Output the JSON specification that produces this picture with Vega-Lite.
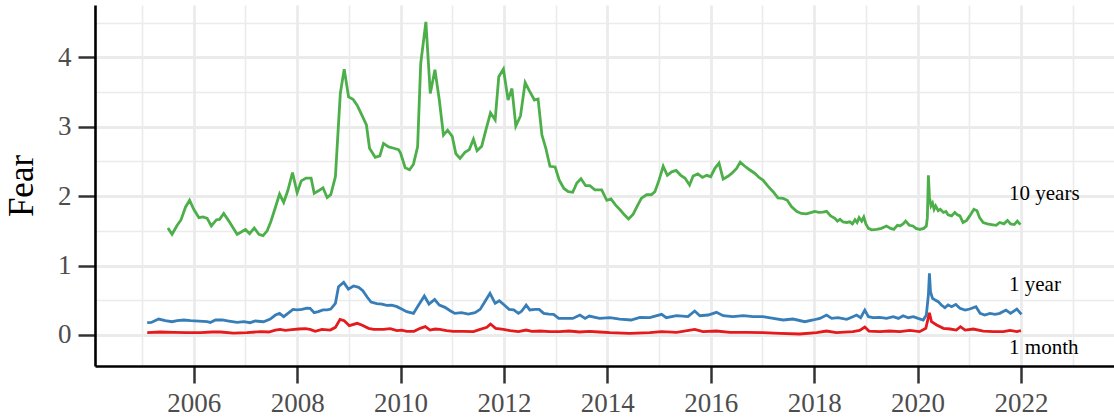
{
  "$schema": "https://vega.github.io/schema/vega-lite/v6.json",
  "width": 1019,
  "height": 361,
  "autosize": "none",
  "padding": {"left": 95, "top": 5, "right": 0, "bottom": 54},
  "background": "white",
  "config": {"view": {"stroke": null}, "font": "Liberation Serif"},
  "datasets": {
    "series": [
      {"t":2005.50,"v":1.54,"s":"10 years"},{"t":2005.58,"v":1.45,"s":"10 years"},{"t":2005.68,"v":1.58,"s":"10 years"},{"t":2005.755,"v":1.66,"s":"10 years"},{"t":2005.84,"v":1.84,"s":"10 years"},{"t":2005.92,"v":1.94,"s":"10 years"},{"t":2006.00,"v":1.81,"s":"10 years"},{"t":2006.10,"v":1.69,"s":"10 years"},{"t":2006.18,"v":1.70,"s":"10 years"},{"t":2006.26,"v":1.68,"s":"10 years"},{"t":2006.34,"v":1.57,"s":"10 years"},{"t":2006.44,"v":1.66,"s":"10 years"},{"t":2006.50,"v":1.665,"s":"10 years"},{"t":2006.58,"v":1.75,"s":"10 years"},{"t":2006.68,"v":1.64,"s":"10 years"},{"t":2006.76,"v":1.545,"s":"10 years"},{"t":2006.84,"v":1.45,"s":"10 years"},{"t":2006.91,"v":1.48,"s":"10 years"},{"t":2007.00,"v":1.52,"s":"10 years"},{"t":2007.08,"v":1.46,"s":"10 years"},{"t":2007.17,"v":1.54,"s":"10 years"},{"t":2007.26,"v":1.45,"s":"10 years"},{"t":2007.34,"v":1.43,"s":"10 years"},{"t":2007.42,"v":1.50,"s":"10 years"},{"t":2007.49,"v":1.63,"s":"10 years"},{"t":2007.58,"v":1.84,"s":"10 years"},{"t":2007.66,"v":2.03,"s":"10 years"},{"t":2007.74,"v":1.91,"s":"10 years"},{"t":2007.82,"v":2.08,"s":"10 years"},{"t":2007.91,"v":2.34,"s":"10 years"},{"t":2008.00,"v":2.05,"s":"10 years"},{"t":2008.08,"v":2.22,"s":"10 years"},{"t":2008.17,"v":2.26,"s":"10 years"},{"t":2008.27,"v":2.26,"s":"10 years"},{"t":2008.33,"v":2.04,"s":"10 years"},{"t":2008.42,"v":2.08,"s":"10 years"},{"t":2008.50,"v":2.12,"s":"10 years"},{"t":2008.58,"v":1.98,"s":"10 years"},{"t":2008.65,"v":2.02,"s":"10 years"},{"t":2008.74,"v":2.28,"s":"10 years"},{"t":2008.835,"v":3.48,"s":"10 years"},{"t":2008.91,"v":3.83,"s":"10 years"},{"t":2008.995,"v":3.43,"s":"10 years"},{"t":2009.08,"v":3.395,"s":"10 years"},{"t":2009.16,"v":3.31,"s":"10 years"},{"t":2009.25,"v":3.17,"s":"10 years"},{"t":2009.34,"v":3.025,"s":"10 years"},{"t":2009.40,"v":2.69,"s":"10 years"},{"t":2009.51,"v":2.56,"s":"10 years"},{"t":2009.60,"v":2.58,"s":"10 years"},{"t":2009.67,"v":2.76,"s":"10 years"},{"t":2009.77,"v":2.71,"s":"10 years"},{"t":2009.87,"v":2.69,"s":"10 years"},{"t":2009.96,"v":2.67,"s":"10 years"},{"t":2010.00,"v":2.62,"s":"10 years"},{"t":2010.09,"v":2.41,"s":"10 years"},{"t":2010.175,"v":2.38,"s":"10 years"},{"t":2010.25,"v":2.46,"s":"10 years"},{"t":2010.33,"v":2.71,"s":"10 years"},{"t":2010.39,"v":3.91,"s":"10 years"},{"t":2010.49,"v":4.51,"s":"10 years"},{"t":2010.575,"v":3.48,"s":"10 years"},{"t":2010.665,"v":3.82,"s":"10 years"},{"t":2010.75,"v":3.385,"s":"10 years"},{"t":2010.83,"v":2.88,"s":"10 years"},{"t":2010.91,"v":2.95,"s":"10 years"},{"t":2011.00,"v":2.86,"s":"10 years"},{"t":2011.07,"v":2.61,"s":"10 years"},{"t":2011.15,"v":2.545,"s":"10 years"},{"t":2011.245,"v":2.63,"s":"10 years"},{"t":2011.33,"v":2.67,"s":"10 years"},{"t":2011.41,"v":2.82,"s":"10 years"},{"t":2011.48,"v":2.655,"s":"10 years"},{"t":2011.57,"v":2.72,"s":"10 years"},{"t":2011.65,"v":2.95,"s":"10 years"},{"t":2011.74,"v":3.20,"s":"10 years"},{"t":2011.83,"v":3.10,"s":"10 years"},{"t":2011.90,"v":3.72,"s":"10 years"},{"t":2011.99,"v":3.83,"s":"10 years"},{"t":2012.08,"v":3.385,"s":"10 years"},{"t":2012.155,"v":3.55,"s":"10 years"},{"t":2012.23,"v":3.01,"s":"10 years"},{"t":2012.32,"v":3.155,"s":"10 years"},{"t":2012.41,"v":3.635,"s":"10 years"},{"t":2012.49,"v":3.52,"s":"10 years"},{"t":2012.59,"v":3.385,"s":"10 years"},{"t":2012.66,"v":3.40,"s":"10 years"},{"t":2012.735,"v":2.88,"s":"10 years"},{"t":2012.81,"v":2.69,"s":"10 years"},{"t":2012.89,"v":2.43,"s":"10 years"},{"t":2012.99,"v":2.42,"s":"10 years"},{"t":2013.07,"v":2.23,"s":"10 years"},{"t":2013.16,"v":2.11,"s":"10 years"},{"t":2013.245,"v":2.065,"s":"10 years"},{"t":2013.33,"v":2.055,"s":"10 years"},{"t":2013.41,"v":2.19,"s":"10 years"},{"t":2013.49,"v":2.25,"s":"10 years"},{"t":2013.58,"v":2.15,"s":"10 years"},{"t":2013.66,"v":2.15,"s":"10 years"},{"t":2013.76,"v":2.09,"s":"10 years"},{"t":2013.89,"v":2.09,"s":"10 years"},{"t":2013.99,"v":1.94,"s":"10 years"},{"t":2014.07,"v":1.96,"s":"10 years"},{"t":2014.16,"v":1.87,"s":"10 years"},{"t":2014.25,"v":1.80,"s":"10 years"},{"t":2014.33,"v":1.73,"s":"10 years"},{"t":2014.41,"v":1.67,"s":"10 years"},{"t":2014.50,"v":1.74,"s":"10 years"},{"t":2014.58,"v":1.86,"s":"10 years"},{"t":2014.66,"v":1.97,"s":"10 years"},{"t":2014.76,"v":2.02,"s":"10 years"},{"t":2014.85,"v":2.02,"s":"10 years"},{"t":2014.92,"v":2.065,"s":"10 years"},{"t":2015.00,"v":2.23,"s":"10 years"},{"t":2015.08,"v":2.43,"s":"10 years"},{"t":2015.16,"v":2.30,"s":"10 years"},{"t":2015.245,"v":2.35,"s":"10 years"},{"t":2015.33,"v":2.37,"s":"10 years"},{"t":2015.42,"v":2.30,"s":"10 years"},{"t":2015.50,"v":2.26,"s":"10 years"},{"t":2015.59,"v":2.16,"s":"10 years"},{"t":2015.66,"v":2.29,"s":"10 years"},{"t":2015.75,"v":2.32,"s":"10 years"},{"t":2015.84,"v":2.27,"s":"10 years"},{"t":2015.92,"v":2.30,"s":"10 years"},{"t":2016.00,"v":2.28,"s":"10 years"},{"t":2016.08,"v":2.40,"s":"10 years"},{"t":2016.16,"v":2.475,"s":"10 years"},{"t":2016.24,"v":2.245,"s":"10 years"},{"t":2016.34,"v":2.29,"s":"10 years"},{"t":2016.41,"v":2.33,"s":"10 years"},{"t":2016.50,"v":2.40,"s":"10 years"},{"t":2016.57,"v":2.49,"s":"10 years"},{"t":2016.66,"v":2.43,"s":"10 years"},{"t":2016.75,"v":2.38,"s":"10 years"},{"t":2016.85,"v":2.33,"s":"10 years"},{"t":2016.94,"v":2.265,"s":"10 years"},{"t":2017.01,"v":2.23,"s":"10 years"},{"t":2017.11,"v":2.14,"s":"10 years"},{"t":2017.21,"v":2.06,"s":"10 years"},{"t":2017.30,"v":1.975,"s":"10 years"},{"t":2017.40,"v":1.966,"s":"10 years"},{"t":2017.48,"v":1.94,"s":"10 years"},{"t":2017.56,"v":1.85,"s":"10 years"},{"t":2017.66,"v":1.78,"s":"10 years"},{"t":2017.75,"v":1.75,"s":"10 years"},{"t":2017.85,"v":1.745,"s":"10 years"},{"t":2017.95,"v":1.765,"s":"10 years"},{"t":2018.01,"v":1.78,"s":"10 years"},{"t":2018.09,"v":1.765,"s":"10 years"},{"t":2018.17,"v":1.77,"s":"10 years"},{"t":2018.24,"v":1.78,"s":"10 years"},{"t":2018.32,"v":1.715,"s":"10 years"},{"t":2018.40,"v":1.68,"s":"10 years"},{"t":2018.45,"v":1.64,"s":"10 years"},{"t":2018.50,"v":1.665,"s":"10 years"},{"t":2018.56,"v":1.627,"s":"10 years"},{"t":2018.63,"v":1.62,"s":"10 years"},{"t":2018.69,"v":1.63,"s":"10 years"},{"t":2018.74,"v":1.60,"s":"10 years"},{"t":2018.79,"v":1.66,"s":"10 years"},{"t":2018.83,"v":1.62,"s":"10 years"},{"t":2018.87,"v":1.69,"s":"10 years"},{"t":2018.92,"v":1.64,"s":"10 years"},{"t":2018.96,"v":1.70,"s":"10 years"},{"t":2019.00,"v":1.60,"s":"10 years"},{"t":2019.05,"v":1.535,"s":"10 years"},{"t":2019.11,"v":1.515,"s":"10 years"},{"t":2019.21,"v":1.52,"s":"10 years"},{"t":2019.30,"v":1.535,"s":"10 years"},{"t":2019.40,"v":1.57,"s":"10 years"},{"t":2019.48,"v":1.535,"s":"10 years"},{"t":2019.54,"v":1.52,"s":"10 years"},{"t":2019.61,"v":1.58,"s":"10 years"},{"t":2019.66,"v":1.57,"s":"10 years"},{"t":2019.72,"v":1.60,"s":"10 years"},{"t":2019.77,"v":1.64,"s":"10 years"},{"t":2019.84,"v":1.58,"s":"10 years"},{"t":2019.91,"v":1.57,"s":"10 years"},{"t":2019.97,"v":1.535,"s":"10 years"},{"t":2020.04,"v":1.52,"s":"10 years"},{"t":2020.12,"v":1.535,"s":"10 years"},{"t":2020.17,"v":1.57,"s":"10 years"},{"t":2020.19,"v":1.69,"s":"10 years"},{"t":2020.21,"v":2.30,"s":"10 years"},{"t":2020.23,"v":1.985,"s":"10 years"},{"t":2020.26,"v":1.86,"s":"10 years"},{"t":2020.29,"v":1.90,"s":"10 years"},{"t":2020.32,"v":1.81,"s":"10 years"},{"t":2020.35,"v":1.86,"s":"10 years"},{"t":2020.40,"v":1.79,"s":"10 years"},{"t":2020.44,"v":1.81,"s":"10 years"},{"t":2020.50,"v":1.765,"s":"10 years"},{"t":2020.55,"v":1.78,"s":"10 years"},{"t":2020.59,"v":1.73,"s":"10 years"},{"t":2020.66,"v":1.715,"s":"10 years"},{"t":2020.72,"v":1.765,"s":"10 years"},{"t":2020.77,"v":1.73,"s":"10 years"},{"t":2020.82,"v":1.715,"s":"10 years"},{"t":2020.88,"v":1.62,"s":"10 years"},{"t":2020.95,"v":1.65,"s":"10 years"},{"t":2021.01,"v":1.715,"s":"10 years"},{"t":2021.09,"v":1.81,"s":"10 years"},{"t":2021.15,"v":1.79,"s":"10 years"},{"t":2021.20,"v":1.69,"s":"10 years"},{"t":2021.27,"v":1.62,"s":"10 years"},{"t":2021.35,"v":1.60,"s":"10 years"},{"t":2021.43,"v":1.59,"s":"10 years"},{"t":2021.52,"v":1.58,"s":"10 years"},{"t":2021.59,"v":1.62,"s":"10 years"},{"t":2021.67,"v":1.60,"s":"10 years"},{"t":2021.74,"v":1.65,"s":"10 years"},{"t":2021.80,"v":1.60,"s":"10 years"},{"t":2021.87,"v":1.59,"s":"10 years"},{"t":2021.93,"v":1.64,"s":"10 years"},{"t":2021.99,"v":1.59,"s":"10 years"},

      {"t":2005.10,"v":0.176,"s":"1 year"},{"t":2005.18,"v":0.18,"s":"1 year"},{"t":2005.32,"v":0.229,"s":"1 year"},{"t":2005.45,"v":0.205,"s":"1 year"},{"t":2005.58,"v":0.19,"s":"1 year"},{"t":2005.68,"v":0.205,"s":"1 year"},{"t":2005.81,"v":0.215,"s":"1 year"},{"t":2005.94,"v":0.205,"s":"1 year"},{"t":2006.10,"v":0.20,"s":"1 year"},{"t":2006.26,"v":0.19,"s":"1 year"},{"t":2006.32,"v":0.18,"s":"1 year"},{"t":2006.42,"v":0.215,"s":"1 year"},{"t":2006.55,"v":0.215,"s":"1 year"},{"t":2006.68,"v":0.20,"s":"1 year"},{"t":2006.84,"v":0.18,"s":"1 year"},{"t":2006.97,"v":0.19,"s":"1 year"},{"t":2007.09,"v":0.176,"s":"1 year"},{"t":2007.19,"v":0.20,"s":"1 year"},{"t":2007.35,"v":0.19,"s":"1 year"},{"t":2007.48,"v":0.229,"s":"1 year"},{"t":2007.58,"v":0.286,"s":"1 year"},{"t":2007.66,"v":0.31,"s":"1 year"},{"t":2007.74,"v":0.263,"s":"1 year"},{"t":2007.84,"v":0.32,"s":"1 year"},{"t":2007.92,"v":0.368,"s":"1 year"},{"t":2008.00,"v":0.36,"s":"1 year"},{"t":2008.09,"v":0.368,"s":"1 year"},{"t":2008.19,"v":0.387,"s":"1 year"},{"t":2008.25,"v":0.383,"s":"1 year"},{"t":2008.33,"v":0.32,"s":"1 year"},{"t":2008.41,"v":0.335,"s":"1 year"},{"t":2008.50,"v":0.36,"s":"1 year"},{"t":2008.58,"v":0.36,"s":"1 year"},{"t":2008.65,"v":0.373,"s":"1 year"},{"t":2008.74,"v":0.455,"s":"1 year"},{"t":2008.80,"v":0.695,"s":"1 year"},{"t":2008.90,"v":0.757,"s":"1 year"},{"t":2008.99,"v":0.66,"s":"1 year"},{"t":2009.09,"v":0.705,"s":"1 year"},{"t":2009.19,"v":0.685,"s":"1 year"},{"t":2009.27,"v":0.637,"s":"1 year"},{"t":2009.35,"v":0.55,"s":"1 year"},{"t":2009.43,"v":0.474,"s":"1 year"},{"t":2009.54,"v":0.45,"s":"1 year"},{"t":2009.64,"v":0.445,"s":"1 year"},{"t":2009.73,"v":0.426,"s":"1 year"},{"t":2009.83,"v":0.43,"s":"1 year"},{"t":2009.93,"v":0.407,"s":"1 year"},{"t":2010.02,"v":0.373,"s":"1 year"},{"t":2010.12,"v":0.335,"s":"1 year"},{"t":2010.25,"v":0.31,"s":"1 year"},{"t":2010.35,"v":0.43,"s":"1 year"},{"t":2010.46,"v":0.56,"s":"1 year"},{"t":2010.55,"v":0.445,"s":"1 year"},{"t":2010.66,"v":0.51,"s":"1 year"},{"t":2010.75,"v":0.43,"s":"1 year"},{"t":2010.86,"v":0.397,"s":"1 year"},{"t":2010.96,"v":0.349,"s":"1 year"},{"t":2011.05,"v":0.31,"s":"1 year"},{"t":2011.18,"v":0.32,"s":"1 year"},{"t":2011.31,"v":0.30,"s":"1 year"},{"t":2011.44,"v":0.32,"s":"1 year"},{"t":2011.54,"v":0.368,"s":"1 year"},{"t":2011.63,"v":0.479,"s":"1 year"},{"t":2011.73,"v":0.599,"s":"1 year"},{"t":2011.83,"v":0.455,"s":"1 year"},{"t":2011.91,"v":0.493,"s":"1 year"},{"t":2012.00,"v":0.435,"s":"1 year"},{"t":2012.10,"v":0.368,"s":"1 year"},{"t":2012.19,"v":0.36,"s":"1 year"},{"t":2012.28,"v":0.31,"s":"1 year"},{"t":2012.34,"v":0.34,"s":"1 year"},{"t":2012.43,"v":0.43,"s":"1 year"},{"t":2012.50,"v":0.36,"s":"1 year"},{"t":2012.60,"v":0.368,"s":"1 year"},{"t":2012.68,"v":0.368,"s":"1 year"},{"t":2012.77,"v":0.31,"s":"1 year"},{"t":2012.87,"v":0.30,"s":"1 year"},{"t":2012.96,"v":0.296,"s":"1 year"},{"t":2013.06,"v":0.238,"s":"1 year"},{"t":2013.20,"v":0.238,"s":"1 year"},{"t":2013.33,"v":0.238,"s":"1 year"},{"t":2013.47,"v":0.287,"s":"1 year"},{"t":2013.57,"v":0.238,"s":"1 year"},{"t":2013.65,"v":0.272,"s":"1 year"},{"t":2013.85,"v":0.238,"s":"1 year"},{"t":2014.05,"v":0.25,"s":"1 year"},{"t":2014.24,"v":0.228,"s":"1 year"},{"t":2014.46,"v":0.215,"s":"1 year"},{"t":2014.63,"v":0.253,"s":"1 year"},{"t":2014.82,"v":0.248,"s":"1 year"},{"t":2015.05,"v":0.296,"s":"1 year"},{"t":2015.14,"v":0.248,"s":"1 year"},{"t":2015.34,"v":0.277,"s":"1 year"},{"t":2015.56,"v":0.263,"s":"1 year"},{"t":2015.69,"v":0.344,"s":"1 year"},{"t":2015.79,"v":0.277,"s":"1 year"},{"t":2015.95,"v":0.287,"s":"1 year"},{"t":2016.11,"v":0.325,"s":"1 year"},{"t":2016.24,"v":0.277,"s":"1 year"},{"t":2016.43,"v":0.263,"s":"1 year"},{"t":2016.63,"v":0.277,"s":"1 year"},{"t":2016.82,"v":0.263,"s":"1 year"},{"t":2017.01,"v":0.263,"s":"1 year"},{"t":2017.21,"v":0.238,"s":"1 year"},{"t":2017.40,"v":0.215,"s":"1 year"},{"t":2017.59,"v":0.229,"s":"1 year"},{"t":2017.82,"v":0.19,"s":"1 year"},{"t":2017.98,"v":0.215,"s":"1 year"},{"t":2018.11,"v":0.238,"s":"1 year"},{"t":2018.24,"v":0.287,"s":"1 year"},{"t":2018.34,"v":0.238,"s":"1 year"},{"t":2018.46,"v":0.248,"s":"1 year"},{"t":2018.63,"v":0.224,"s":"1 year"},{"t":2018.75,"v":0.263,"s":"1 year"},{"t":2018.82,"v":0.287,"s":"1 year"},{"t":2018.90,"v":0.248,"s":"1 year"},{"t":2018.98,"v":0.358,"s":"1 year"},{"t":2019.05,"v":0.263,"s":"1 year"},{"t":2019.14,"v":0.248,"s":"1 year"},{"t":2019.27,"v":0.253,"s":"1 year"},{"t":2019.40,"v":0.238,"s":"1 year"},{"t":2019.53,"v":0.263,"s":"1 year"},{"t":2019.63,"v":0.238,"s":"1 year"},{"t":2019.72,"v":0.277,"s":"1 year"},{"t":2019.82,"v":0.248,"s":"1 year"},{"t":2019.92,"v":0.263,"s":"1 year"},{"t":2020.01,"v":0.238,"s":"1 year"},{"t":2020.11,"v":0.215,"s":"1 year"},{"t":2020.17,"v":0.287,"s":"1 year"},{"t":2020.21,"v":0.575,"s":"1 year"},{"t":2020.23,"v":0.887,"s":"1 year"},{"t":2020.25,"v":0.623,"s":"1 year"},{"t":2020.29,"v":0.527,"s":"1 year"},{"t":2020.34,"v":0.503,"s":"1 year"},{"t":2020.40,"v":0.479,"s":"1 year"},{"t":2020.46,"v":0.431,"s":"1 year"},{"t":2020.53,"v":0.392,"s":"1 year"},{"t":2020.59,"v":0.431,"s":"1 year"},{"t":2020.66,"v":0.407,"s":"1 year"},{"t":2020.74,"v":0.44,"s":"1 year"},{"t":2020.82,"v":0.383,"s":"1 year"},{"t":2020.92,"v":0.358,"s":"1 year"},{"t":2021.01,"v":0.373,"s":"1 year"},{"t":2021.13,"v":0.407,"s":"1 year"},{"t":2021.21,"v":0.311,"s":"1 year"},{"t":2021.30,"v":0.287,"s":"1 year"},{"t":2021.40,"v":0.311,"s":"1 year"},{"t":2021.50,"v":0.296,"s":"1 year"},{"t":2021.59,"v":0.311,"s":"1 year"},{"t":2021.71,"v":0.358,"s":"1 year"},{"t":2021.80,"v":0.311,"s":"1 year"},{"t":2021.92,"v":0.373,"s":"1 year"},{"t":2022.01,"v":0.296,"s":"1 year"},

      {"t":2005.10,"v":0.032,"s":"1 month"},{"t":2005.36,"v":0.042,"s":"1 month"},{"t":2005.61,"v":0.037,"s":"1 month"},{"t":2005.87,"v":0.032,"s":"1 month"},{"t":2006.13,"v":0.032,"s":"1 month"},{"t":2006.35,"v":0.042,"s":"1 month"},{"t":2006.52,"v":0.042,"s":"1 month"},{"t":2006.77,"v":0.027,"s":"1 month"},{"t":2007.03,"v":0.032,"s":"1 month"},{"t":2007.29,"v":0.047,"s":"1 month"},{"t":2007.45,"v":0.042,"s":"1 month"},{"t":2007.58,"v":0.07,"s":"1 month"},{"t":2007.67,"v":0.08,"s":"1 month"},{"t":2007.77,"v":0.066,"s":"1 month"},{"t":2007.90,"v":0.075,"s":"1 month"},{"t":2008.03,"v":0.085,"s":"1 month"},{"t":2008.16,"v":0.09,"s":"1 month"},{"t":2008.25,"v":0.08,"s":"1 month"},{"t":2008.35,"v":0.051,"s":"1 month"},{"t":2008.48,"v":0.08,"s":"1 month"},{"t":2008.64,"v":0.07,"s":"1 month"},{"t":2008.74,"v":0.109,"s":"1 month"},{"t":2008.83,"v":0.224,"s":"1 month"},{"t":2008.91,"v":0.205,"s":"1 month"},{"t":2009.01,"v":0.133,"s":"1 month"},{"t":2009.16,"v":0.167,"s":"1 month"},{"t":2009.25,"v":0.143,"s":"1 month"},{"t":2009.38,"v":0.095,"s":"1 month"},{"t":2009.48,"v":0.08,"s":"1 month"},{"t":2009.67,"v":0.08,"s":"1 month"},{"t":2009.80,"v":0.09,"s":"1 month"},{"t":2009.93,"v":0.061,"s":"1 month"},{"t":2010.02,"v":0.07,"s":"1 month"},{"t":2010.12,"v":0.051,"s":"1 month"},{"t":2010.26,"v":0.051,"s":"1 month"},{"t":2010.38,"v":0.095,"s":"1 month"},{"t":2010.48,"v":0.119,"s":"1 month"},{"t":2010.57,"v":0.07,"s":"1 month"},{"t":2010.67,"v":0.085,"s":"1 month"},{"t":2010.76,"v":0.08,"s":"1 month"},{"t":2010.89,"v":0.061,"s":"1 month"},{"t":2011.02,"v":0.051,"s":"1 month"},{"t":2011.22,"v":0.051,"s":"1 month"},{"t":2011.41,"v":0.047,"s":"1 month"},{"t":2011.54,"v":0.08,"s":"1 month"},{"t":2011.67,"v":0.109,"s":"1 month"},{"t":2011.74,"v":0.157,"s":"1 month"},{"t":2011.84,"v":0.095,"s":"1 month"},{"t":2011.99,"v":0.08,"s":"1 month"},{"t":2012.12,"v":0.061,"s":"1 month"},{"t":2012.28,"v":0.047,"s":"1 month"},{"t":2012.43,"v":0.07,"s":"1 month"},{"t":2012.54,"v":0.051,"s":"1 month"},{"t":2012.70,"v":0.056,"s":"1 month"},{"t":2012.89,"v":0.047,"s":"1 month"},{"t":2013.08,"v":0.047,"s":"1 month"},{"t":2013.26,"v":0.056,"s":"1 month"},{"t":2013.46,"v":0.042,"s":"1 month"},{"t":2013.65,"v":0.051,"s":"1 month"},{"t":2013.84,"v":0.042,"s":"1 month"},{"t":2014.05,"v":0.032,"s":"1 month"},{"t":2014.43,"v":0.023,"s":"1 month"},{"t":2014.82,"v":0.032,"s":"1 month"},{"t":2015.05,"v":0.047,"s":"1 month"},{"t":2015.34,"v":0.037,"s":"1 month"},{"t":2015.69,"v":0.08,"s":"1 month"},{"t":2015.85,"v":0.047,"s":"1 month"},{"t":2016.11,"v":0.056,"s":"1 month"},{"t":2016.37,"v":0.037,"s":"1 month"},{"t":2016.69,"v":0.037,"s":"1 month"},{"t":2017.01,"v":0.032,"s":"1 month"},{"t":2017.34,"v":0.023,"s":"1 month"},{"t":2017.72,"v":0.013,"s":"1 month"},{"t":2018.05,"v":0.032,"s":"1 month"},{"t":2018.24,"v":0.056,"s":"1 month"},{"t":2018.43,"v":0.032,"s":"1 month"},{"t":2018.75,"v":0.047,"s":"1 month"},{"t":2018.88,"v":0.066,"s":"1 month"},{"t":2018.98,"v":0.114,"s":"1 month"},{"t":2019.06,"v":0.056,"s":"1 month"},{"t":2019.27,"v":0.047,"s":"1 month"},{"t":2019.46,"v":0.056,"s":"1 month"},{"t":2019.66,"v":0.047,"s":"1 month"},{"t":2019.85,"v":0.066,"s":"1 month"},{"t":2020.04,"v":0.047,"s":"1 month"},{"t":2020.16,"v":0.095,"s":"1 month"},{"t":2020.23,"v":0.32,"s":"1 month"},{"t":2020.27,"v":0.19,"s":"1 month"},{"t":2020.37,"v":0.143,"s":"1 month"},{"t":2020.50,"v":0.095,"s":"1 month"},{"t":2020.63,"v":0.085,"s":"1 month"},{"t":2020.75,"v":0.07,"s":"1 month"},{"t":2020.83,"v":0.119,"s":"1 month"},{"t":2020.92,"v":0.07,"s":"1 month"},{"t":2021.08,"v":0.085,"s":"1 month"},{"t":2021.27,"v":0.056,"s":"1 month"},{"t":2021.47,"v":0.047,"s":"1 month"},{"t":2021.66,"v":0.047,"s":"1 month"},{"t":2021.79,"v":0.066,"s":"1 month"},{"t":2021.92,"v":0.047,"s":"1 month"},{"t":2022.00,"v":0.061,"s":"1 month"}
    ],
    "labels": [
      {"t": 2021.77, "v": 2.03, "s": "10 years"},
      {"t": 2021.77, "v": 0.72, "s": "1 year"},
      {"t": 2021.77, "v": -0.19, "s": "1 month"}
    ]
  },
  "encoding": {
    "x": {
      "field": "t", "type": "quantitative",
      "scale": {"domain": [2004.09, 2023.8], "nice": false, "zero": false},
      "axis": {
        "title": null,
        "values": [2005,2006,2007,2008,2009,2010,2011,2012,2013,2014,2015,2016,2017,2018,2019,2020,2021,2022,2023],
        "labelExpr": "datum.value % 2 === 0 ? format(datum.value, 'd') : ''",
        "labelFlush": false, "labelOverlap": false, "labelBound": false,
        "labelFont": "Liberation Serif", "labelFontSize": 27, "labelColor": "#4D4D4D", "labelPadding": 7,
        "domainColor": "black", "domainWidth": 2.6,
        "tickColor": "#333333", "tickWidth": 2.5, "tickSize": 17,
        "tickOpacity": {"condition": {"test": "datum.value % 2 === 0", "value": 1}, "value": 0},
        "gridColor": "#EBEBEB",
        "gridWidth": {"condition": {"test": "datum.value % 2 === 0", "value": 2.8}, "value": 1.6}
      }
    },
    "y": {
      "field": "v", "type": "quantitative",
      "scale": {"domain": [-0.448, 4.754], "nice": false, "zero": false},
      "axis": {
        "title": "Fear",
        "titleFont": "Liberation Serif", "titleFontSize": 35, "titleFontWeight": "normal", "titleColor": "black", "titlePadding": 18,
        "values": [0,0.5,1,1.5,2,2.5,3,3.5,4,4.5],
        "labelExpr": "datum.value % 1 === 0 ? format(datum.value, 'd') : ''",
        "labelFlush": false, "labelOverlap": false, "labelBound": false,
        "labelFont": "Liberation Serif", "labelFontSize": 27, "labelColor": "#4D4D4D", "labelPadding": 7,
        "domainColor": "black", "domainWidth": 2.6,
        "tickColor": "#333333", "tickWidth": 2.5, "tickSize": 17,
        "tickOpacity": {"condition": {"test": "datum.value % 1 === 0", "value": 1}, "value": 0},
        "gridColor": "#EBEBEB",
        "gridWidth": {"condition": {"test": "datum.value % 1 === 0", "value": 2.8}, "value": 1.6}
      }
    }
  },
  "layer": [
    {
      "data": {"name": "series"},
      "mark": {"type": "line", "strokeWidth": 2.8},
      "encoding": {
        "color": {
          "field": "s", "type": "nominal",
          "scale": {"domain": ["10 years", "1 year", "1 month"], "range": ["#4DAF4A", "#377EB8", "#E41A1C"]},
          "legend": null
        }
      }
    },
    {
      "data": {"name": "labels"},
      "mark": {"type": "text", "align": "left", "baseline": "middle", "font": "Liberation Serif", "fontSize": 21, "color": "black"},
      "encoding": {"text": {"field": "s"}}
    }
  ]
}
